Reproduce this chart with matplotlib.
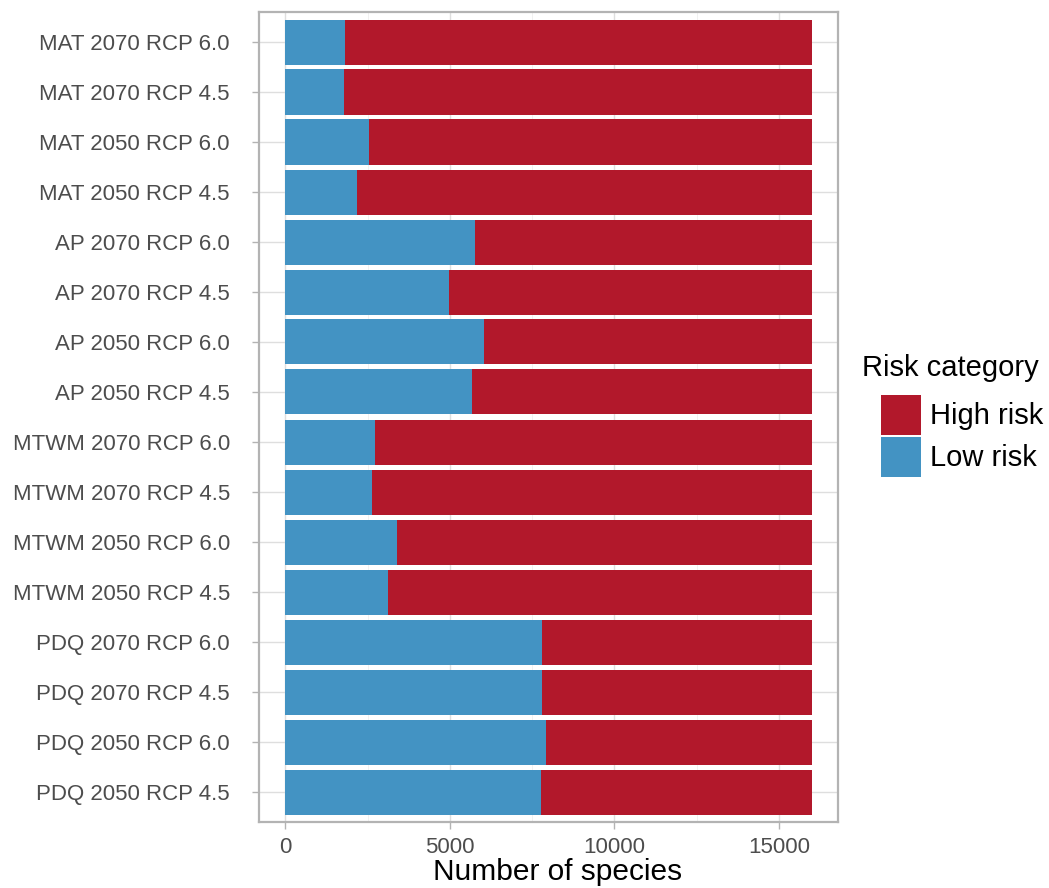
import matplotlib.pyplot as plt
import numpy as np
from matplotlib.patches import Patch
from matplotlib.ticker import MultipleLocator

plt.rcParams['font.family'] = ['Liberation Sans', 'DejaVu Sans']

# scenarios, bottom to top
scenarios = [
    "PDQ 2050 RCP 4.5", "PDQ 2050 RCP 6.0", "PDQ 2070 RCP 4.5", "PDQ 2070 RCP 6.0",
    "MTWM 2050 RCP 4.5", "MTWM 2050 RCP 6.0", "MTWM 2070 RCP 4.5", "MTWM 2070 RCP 6.0",
    "AP 2050 RCP 4.5", "AP 2050 RCP 6.0", "AP 2070 RCP 4.5", "AP 2070 RCP 6.0",
    "MAT 2050 RCP 4.5", "MAT 2050 RCP 6.0", "MAT 2070 RCP 4.5", "MAT 2070 RCP 6.0",
]
low_risk = [7760, 7910, 7790, 7790,
            3130, 3380, 2650, 2740,
            5660, 6050, 4990, 5780,
            2190, 2555, 1795, 1825]
total_species = 16000
high_risk = [total_species - v for v in low_risk]

col_high = "#B2182B"
col_low = "#4393C3"

fig = plt.figure(figsize=(10.49, 8.88), dpi=100)
ax = fig.add_axes([259 / 1049, 66 / 888, 579 / 1049, 810 / 888])

y = np.arange(1, len(scenarios) + 1)
ax.barh(y, low_risk, height=0.9, color=col_low, zorder=2)
ax.barh(y, high_risk, left=low_risk, height=0.9, color=col_high, zorder=2)

ax.set_xlim(-800, 16800)
ax.set_ylim(0.4, len(scenarios) + 0.6)
ax.set_yticks(y)
ax.set_yticklabels(scenarios)
ax.xaxis.set_major_locator(MultipleLocator(5000))
ax.xaxis.set_minor_locator(MultipleLocator(2500))

ax.grid(True, which='major', color='#dedede', linewidth=1.0, zorder=0)
ax.grid(True, which='minor', axis='x', color='#efefef', linewidth=0.6, zorder=0)
ax.set_axisbelow(True)
for s in ax.spines.values():
    s.set_color('#b3b3b3')
    s.set_linewidth(1.6)

ax.tick_params(axis='both', which='major', labelsize=16, labelcolor='#4d4d4d',
               color='#b3b3b3', length=5, width=1.0)
ax.tick_params(axis='y', which='major', pad=16)
ax.tick_params(axis='x', which='major', pad=6)
ax.tick_params(axis='both', which='minor', length=0)
ax.set_xlabel("Number of species", fontsize=21.5, labelpad=0, x=0.516)

# legend: keys indented under the title
handles = [Patch(facecolor=col_high, label="High risk"),
           Patch(facecolor=col_low, label="Low risk")]
fig.legend(handles=handles, loc='center left',
           bbox_to_anchor=(881 / 1049, 1 - 436 / 888), frameon=False,
           fontsize=21, handlelength=1.37, handleheight=1.73,
           labelspacing=0.07, handletextpad=0.31, borderpad=0, borderaxespad=0)
fig.text(862 / 1049, 1 - 376 / 888, "Risk category", fontsize=21,
         ha='left', va='baseline')

fig.savefig("out.png", dpi=100)
